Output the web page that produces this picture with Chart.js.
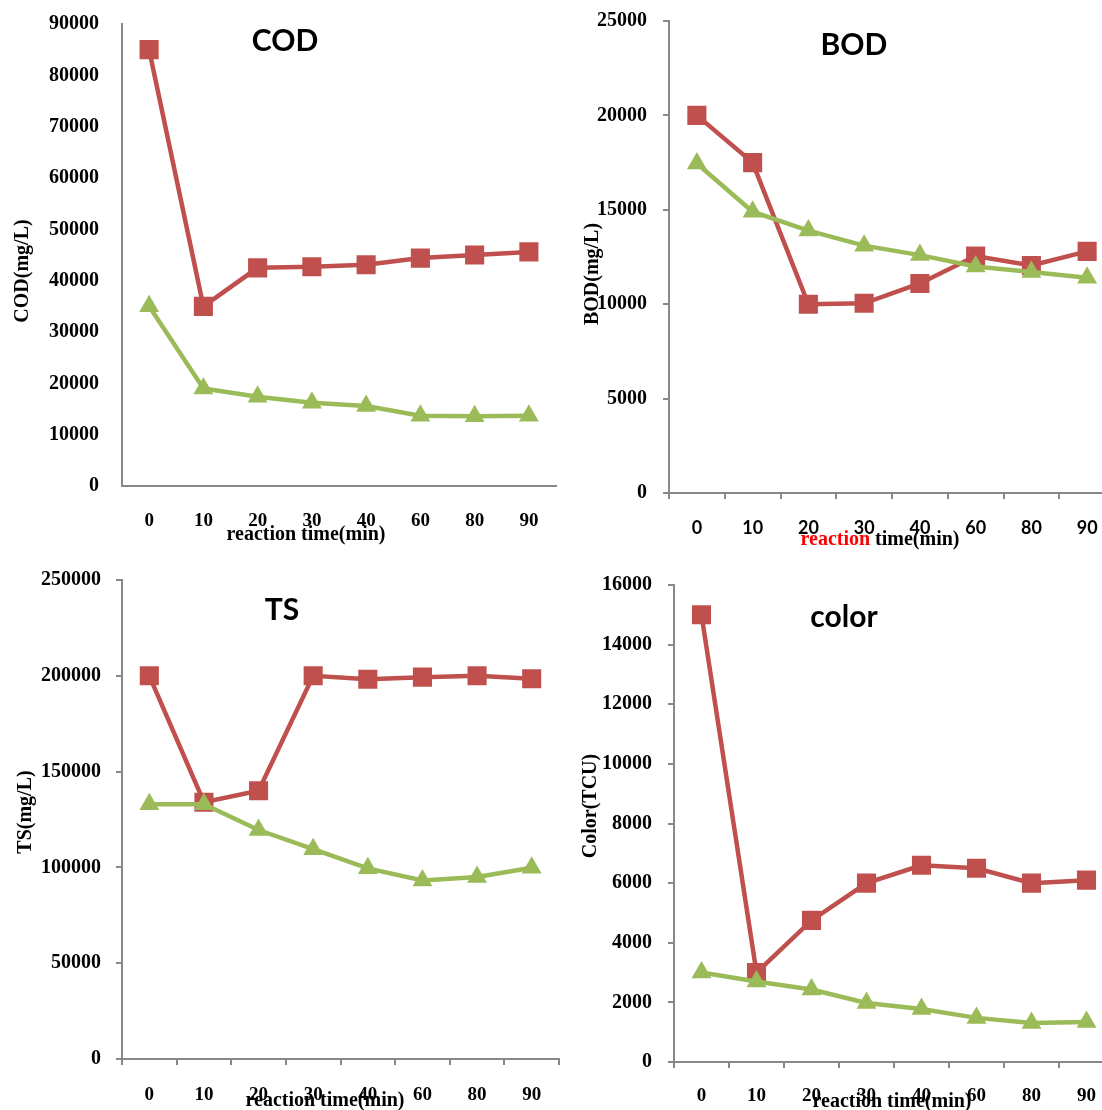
<!DOCTYPE html>
<html>
<head>
<meta charset="utf-8">
<title>COD / BOD / TS / color</title>
<script src="https://cdn.jsdelivr.net/npm/chart.js@4.4.0/dist/chart.umd.min.js"></script>
<style>
    html, body { margin: 0; padding: 0; background: #fff; overflow: hidden; }
    #page { position: relative; width: 1102px; height: 1110px; overflow: hidden; background: #fff; }
    #page canvas { position: absolute; left: 0; top: 0; }
</style>
</head>
<body>
<div id="page">
    <canvas id="codChart" width="1130" height="1110"></canvas>
    <canvas id="bodChart" width="1130" height="1110"></canvas>
    <canvas id="tsChart" width="1130" height="1110"></canvas>
    <canvas id="colorChart" width="1130" height="1110"></canvas>
</div>
<script>
// ===== 데이터 =====
const timeLabels = ['0', '10', '20', '30', '40', '60', '80', '90'];

const codRed   = [85000, 35000, 42500, 42700, 43100, 44400, 45000, 45600];
const codGreen = [35000, 19000, 17400, 16200, 15600, 13700, 13600, 13700];
const codTicks = [0, 10000, 20000, 30000, 40000, 50000, 60000, 70000, 80000, 90000];

const bodRed   = [20000, 17500, 10000, 10050, 11100, 12550, 12050, 12800];
const bodGreen = [17450, 14900, 13900, 13100, 12600, 12000, 11700, 11400];
const bodTicks = [0, 5000, 10000, 15000, 20000, 25000];

const tsRed   = [200000, 134000, 140000, 200000, 198200, 199300, 200000, 198500];
const tsGreen = [133000, 133000, 119500, 109500, 99500, 93200, 95000, 99800];
const tsTicks = [0, 50000, 100000, 150000, 200000, 250000];

const colorRed   = [15000, 3000, 4750, 6000, 6600, 6500, 6000, 6100];
const colorGreen = [3000, 2700, 2430, 1980, 1780, 1480, 1310, 1340];
const colorTicks = [0, 2000, 4000, 6000, 8000, 10000, 12000, 14000, 16000];

// ===== 스타일 =====
const RED = '#C0504D';
const GREEN = '#9BBB59';
const AXIS_GREY = '#888888';
const SERIF = '"Liberation Serif", "Times New Roman", serif';
const SANS = 'Lato, "Open Sans", sans-serif';
const CANVAS_W = 1130;
const CANVAS_H = 1110;

const charts = {};

// 패널 글자(제목, 축 제목) 그리기
function makeTextPlugin(panel) {
    return {
        id: 'panelText',
        afterDraw(chart) {
            const ctx = chart.ctx;
            ctx.save();
            ctx.fillStyle = '#000';

            // 차트 제목
            ctx.font = 'bold 30px ' + SANS;
            ctx.textAlign = 'center';
            ctx.textBaseline = 'alphabetic';
            ctx.fillText(panel.title, panel.titlePos[0], panel.titlePos[1]);

            // y축 제목 (세로)
            ctx.font = 'bold 20px ' + SERIF;
            ctx.save();
            ctx.translate(panel.yTitlePos[0], panel.yTitlePos[1]);
            ctx.rotate(-Math.PI / 2);
            ctx.textBaseline = 'middle';
            ctx.fillText(panel.yTitle, 0, 0);
            ctx.restore();

            // x축 제목 (부분별 색)
            ctx.textAlign = 'left';
            ctx.textBaseline = 'middle';
            const widths = panel.xTitle.map(p => ctx.measureText(p.text).width);
            const total = widths.reduce((a, b) => a + b, 0);
            let x = panel.xTitlePos[0] - total / 2;
            panel.xTitle.forEach((p, i) => {
                ctx.fillStyle = p.color;
                ctx.fillText(p.text, x, panel.xTitlePos[1]);
                x += widths[i];
            });
            ctx.restore();
        }
    };
}

// 축 라벨 때문에 차트 영역이 밀리지 않도록
function clearScalePadding(s) {
    s.paddingTop = 0;
    s.paddingBottom = 0;
    s.paddingLeft = 0;
    s.paddingRight = 0;
}

function renderPanel(canvasId, panel) {
    const canvas = document.getElementById(canvasId);
    if (!canvas) return;
    const ctx = canvas.getContext('2d');
    const area = panel.area;

    charts[canvasId] = new Chart(ctx, {
        type: 'line',
        data: {
            labels: timeLabels,
            datasets: [
                {
                    data: panel.green,
                    borderColor: GREEN,
                    backgroundColor: GREEN,
                    borderWidth: 4.5,
                    pointStyle: 'triangle',
                    pointRadius: 11.5,
                    pointBorderWidth: 0,
                    pointBackgroundColor: GREEN,
                    tension: 0
                },
                {
                    data: panel.red,
                    borderColor: RED,
                    backgroundColor: RED,
                    borderWidth: 4.5,
                    pointStyle: 'rect',
                    pointRadius: 13.5,
                    pointBorderWidth: 0,
                    pointBackgroundColor: RED,
                    tension: 0
                }
            ]
        },
        options: {
            responsive: false,
            animation: false,
            devicePixelRatio: 1,
            events: [],
            layout: { padding: { left: 0, top: area.top, right: CANVAS_W - area.right, bottom: 0 } },
            plugins: { legend: { display: false }, tooltip: { enabled: false } },
            scales: {
                x: {
                    offset: true,
                    grid: {
                        offset: true,
                        drawOnChartArea: false,
                        drawTicks: panel.drawTicks,
                        tickLength: 6,
                        color: AXIS_GREY,
                        lineWidth: 2
                    },
                    border: { color: AXIS_GREY, width: 2 },
                    ticks: {
                        color: '#000',
                        font: panel.xFont,
                        padding: panel.xPad,
                        maxRotation: 0,
                        autoSkip: false
                    },
                    afterFit: s => {
                        s.height = CANVAS_H - area.bottom;
                        clearScalePadding(s);
                    }
                },
                y: {
                    min: panel.ticks[0],
                    max: panel.ticks[panel.ticks.length - 1],
                    grid: {
                        drawOnChartArea: false,
                        drawTicks: panel.drawTicks,
                        tickLength: 6,
                        color: AXIS_GREY,
                        lineWidth: 2
                    },
                    border: { color: AXIS_GREY, width: 2 },
                    ticks: {
                        color: '#000',
                        font: { family: SERIF, size: 20, weight: 'bold' },
                        padding: panel.yPad,
                        callback: v => String(v)
                    },
                    afterBuildTicks: s => { s.ticks = panel.ticks.map(v => ({ value: v })); },
                    afterFit: s => {
                        s.width = area.left;
                        clearScalePadding(s);
                    }
                }
            }
        },
        plugins: [makeTextPlugin(panel)]
    });
}

// ===== 초기화 =====
document.addEventListener('DOMContentLoaded', function() {
    const serifX = { family: SERIF, size: 19, weight: 'bold' };

    renderPanel('codChart', {
        red: codRed, green: codGreen, ticks: codTicks,
        area: { left: 122, top: 24, right: 556, bottom: 486 },
        drawTicks: false, xPad: 24, yPad: 23, xFont: serifX,
        title: 'COD', titlePos: [285, 51],
        yTitle: 'COD(mg/L)', yTitlePos: [23, 271],
        xTitle: [{ text: 'reaction time(min)', color: '#000' }], xTitlePos: [306, 535]
    });

    renderPanel('bodChart', {
        red: bodRed, green: bodGreen, ticks: bodTicks,
        area: { left: 669, top: 21, right: 1115, bottom: 493 },
        drawTicks: true, xPad: 18, yPad: 16, xFont: { family: SANS, size: 18, weight: 'bold' },
        title: 'BOD', titlePos: [854, 55],
        yTitle: 'BOD(mg/L)', yTitlePos: [593, 274],
        xTitle: [{ text: 'reaction', color: '#ff0000' }, { text: ' time(min)', color: '#000' }],
        xTitlePos: [880, 540]
    });

    renderPanel('tsChart', {
        red: tsRed, green: tsGreen, ticks: tsTicks,
        area: { left: 122, top: 580, right: 559, bottom: 1059 },
        drawTicks: true, xPad: 19, yPad: 15, xFont: serifX,
        title: 'TS', titlePos: [282, 620],
        yTitle: 'TS(mg/L)', yTitlePos: [26, 812],
        xTitle: [{ text: 'reaction time(min)', color: '#000' }], xTitlePos: [325, 1101]
    });

    renderPanel('colorChart', {
        red: colorRed, green: colorGreen, ticks: colorTicks,
        area: { left: 674, top: 585, right: 1114, bottom: 1062 },
        drawTicks: true, xPad: 17, yPad: 16, xFont: serifX,
        title: 'color', titlePos: [844, 627],
        yTitle: 'Color(TCU)', yTitlePos: [591, 806],
        xTitle: [{ text: 'reaction time(min)', color: '#000' }], xTitlePos: [892, 1102]
    });
});
</script>
</body>
</html>
